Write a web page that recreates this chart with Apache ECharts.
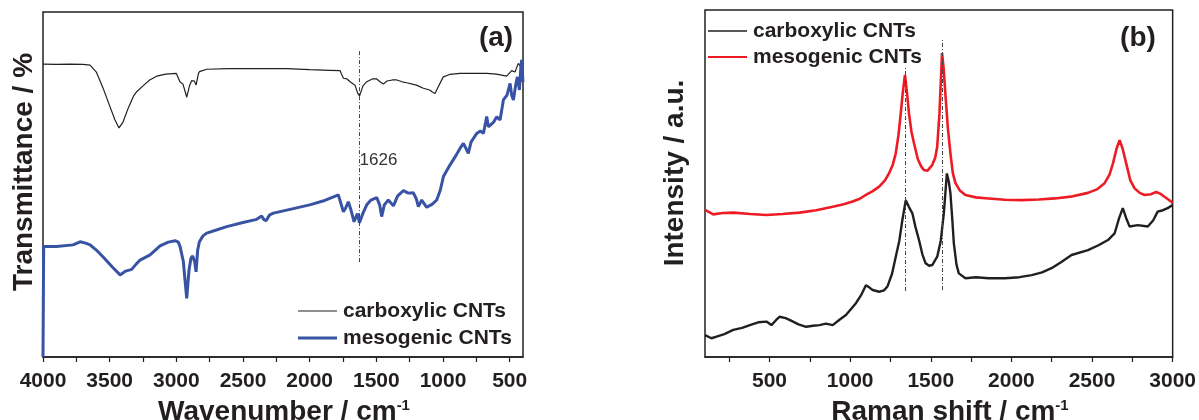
<!DOCTYPE html>
<html>
<head>
<meta charset="utf-8">
<title>FTIR and Raman spectra of CNTs</title>
<script src="https://cdn.jsdelivr.net/npm/echarts@6/dist/echarts.min.js"></script>
<style>
  html, body { margin: 0; padding: 0; background: #fff; }
  #chart { width: 1199px; height: 420px; }
</style>
</head>
<body>
<div id="chart"></div>
<script>
// ---- (a) FTIR: [wavenumber cm-1, transmittance (arb.)] ----
const ftirCarboxylic = [
  [4000, 84.9], [3900, 84.8], [3800, 84.9], [3700, 84.8], [3647, 84.6], [3600, 82.6],
  [3550, 78.0], [3500, 72.8], [3460, 68.7], [3430, 66.4], [3400, 68.1], [3360, 72.2],
  [3320, 75.7], [3297, 76.9], [3250, 78.6], [3200, 80.3], [3147, 81.4], [3080, 82.0],
  [3000, 82.2], [2973, 79.8], [2950, 79.1], [2922, 75.3], [2900, 78.8], [2885, 80.1],
  [2865, 80.0], [2852, 78.8], [2835, 82.0], [2827, 82.7], [2772, 83.4], [2600, 83.6],
  [2400, 83.6], [2172, 83.6], [2000, 83.3], [1850, 83.1], [1772, 83.0], [1747, 80.8],
  [1720, 80.6], [1697, 79.8], [1660, 78.8], [1640, 76.5], [1626, 75.7], [1600, 78.6],
  [1572, 79.8], [1530, 80.6], [1497, 80.6], [1470, 79.7], [1447, 79.1], [1420, 80.0],
  [1380, 80.3], [1347, 80.3], [1300, 79.7], [1272, 79.5], [1200, 78.8], [1147, 77.9],
  [1100, 77.4], [1080, 76.8], [1060, 76.4], [1040, 78.0], [998, 81.2], [950, 81.9],
  [872, 82.2], [800, 82.2], [672, 82.2], [600, 82.0], [522, 81.4], [485, 83.0],
  [460, 82.6], [435, 85.1], [417, 84.1], [400, 85.2]
];
const ftirMesogenic = [
  [4000, 0], [3995, 32.0], [3900, 32.0], [3775, 32.5], [3722, 33.4], [3680, 33.0],
  [3647, 32.5], [3600, 31.0], [3547, 28.9], [3480, 26.1], [3422, 23.8], [3380, 24.9],
  [3335, 25.4], [3300, 27.0], [3272, 28.1], [3197, 29.6], [3122, 32.2], [3060, 33.3],
  [3010, 33.7], [2985, 33.3], [2972, 32.0], [2947, 27.6], [2935, 22.3], [2922, 17.0],
  [2905, 25.2], [2890, 28.7], [2877, 29.3], [2862, 27.5], [2852, 24.7], [2840, 31.0],
  [2827, 33.4], [2800, 35.1], [2772, 35.9], [2700, 36.8], [2622, 37.8], [2500, 39.0],
  [2397, 39.9], [2360, 40.9], [2345, 39.9], [2327, 39.5], [2300, 41.2], [2272, 41.7],
  [2147, 42.8], [2000, 44.1], [1900, 45.2], [1785, 47.0], [1770, 46.5], [1747, 42.1],
  [1730, 43.2], [1710, 45.0], [1690, 42.6], [1667, 39.2], [1642, 41.6], [1627, 38.9],
  [1600, 41.7], [1572, 44.1], [1540, 45.5], [1497, 46.2], [1475, 44.1], [1460, 40.7],
  [1440, 44.1], [1410, 45.5], [1372, 43.8], [1340, 46.7], [1297, 48.2], [1260, 47.5],
  [1222, 47.6], [1200, 45.8], [1185, 43.6], [1160, 45.5], [1122, 43.4], [1080, 44.3],
  [1047, 45.5], [1020, 48.4], [997, 52.3], [947, 55.7], [900, 58.6], [870, 60.6],
  [847, 61.9], [830, 60.6], [810, 59.0], [790, 62.3], [747, 64.8], [720, 65.5],
  [697, 64.8], [680, 68.1], [672, 69.7], [660, 66.7], [647, 66.7], [620, 68.1],
  [597, 69.6], [572, 68.7], [547, 74.5], [520, 75.9], [497, 79.3], [485, 75.9],
  [472, 74.5], [455, 78.8], [442, 81.2], [427, 77.4], [415, 84.6], [410, 86.1], [400, 79.7]
];
const ftirMarker = 1626;              // C=O / C=C band position
const ftirMarkerSpan = [27.5, 89.0];  // extent of the guide line
const ftirLabelY = 57.1;

// ---- (b) Raman: [Raman shift cm-1, intensity (a.u.)] ----
const ramanCarboxylic = [
  [100, 6.3], [140, 5.4], [172, 5.9], [220, 6.6], [275, 7.8], [330, 8.4], [378, 9.2],
  [430, 10.0], [481, 10.2], [512, 9.2], [540, 10.6], [563, 11.6], [600, 11.2], [624, 10.7],
  [680, 9.4], [727, 8.7], [770, 9.0], [810, 9.2], [850, 9.6], [892, 9.2], [930, 10.6],
  [974, 12.1], [1036, 15.5], [1070, 18.0], [1098, 20.7], [1120, 20.0], [1140, 19.3],
  [1180, 18.8], [1210, 19.2], [1231, 20.3], [1260, 24.0], [1283, 28.9], [1305, 33.5],
  [1324, 39.5], [1345, 45.2], [1365, 43.2], [1386, 41.4], [1405, 37.5], [1427, 33.7],
  [1448, 29.6], [1468, 27.0], [1490, 26.3], [1509, 26.5], [1540, 28.9], [1562, 33.5],
  [1581, 41.4], [1600, 52.9], [1612, 50.5], [1622, 47.2], [1633, 40.0], [1643, 32.8],
  [1660, 26.5], [1674, 24.1], [1715, 22.7], [1780, 23.0], [1858, 22.7], [1961, 22.7],
  [2050, 23.0], [2126, 23.6], [2190, 24.4], [2249, 25.6], [2310, 27.4], [2373, 29.4],
  [2475, 30.8], [2540, 32.2], [2599, 33.7], [2640, 35.6], [2668, 40.0], [2691, 42.9],
  [2712, 40.0], [2733, 37.6], [2784, 38.0], [2846, 37.6], [2880, 39.4], [2907, 41.9],
  [2940, 42.3], [2969, 42.9], [3000, 43.8]
];
const ramanMesogenic = [
  [100, 42.4], [151, 41.1], [210, 41.5], [275, 41.6], [380, 41.2], [481, 40.9], [580, 41.2],
  [686, 41.6], [790, 42.3], [892, 43.3], [960, 44.0], [1015, 44.8], [1060, 45.6], [1098, 46.7],
  [1140, 47.8], [1180, 49.1], [1215, 50.8], [1241, 52.9], [1265, 55.5], [1283, 58.7],
  [1300, 64.0], [1314, 70.2], [1326, 76.0], [1340, 81.3], [1352, 76.5], [1365, 70.2],
  [1380, 65.0], [1396, 61.6], [1420, 57.0], [1440, 55.0], [1457, 53.9], [1480, 53.7],
  [1509, 55.3], [1528, 57.5], [1540, 60.6], [1554, 70.2], [1562, 79.0], [1570, 87.6],
  [1580, 83.0], [1592, 75.0], [1606, 66.0], [1622, 58.7], [1637, 53.0], [1653, 50.1],
  [1680, 48.0], [1715, 46.7], [1780, 46.0], [1858, 45.7], [1960, 45.3], [2064, 45.2],
  [2170, 45.4], [2270, 45.7], [2380, 46.3], [2475, 47.3], [2530, 48.3], [2578, 50.1],
  [2608, 52.5], [2630, 55.8], [2652, 60.0], [2671, 62.5], [2690, 60.0], [2712, 55.8],
  [2737, 51.0], [2764, 48.6], [2796, 47.3], [2826, 46.7], [2865, 46.9], [2898, 47.6],
  [2925, 47.0], [2949, 46.2], [2990, 44.8], [3000, 44.4]
];
const ramanMarkers = [
  { shift: 1340, span: [19.0, 83.6] },  // D band
  { shift: 1570, span: [19.3, 91.4] }   // G band
];

// ---- tick values ----
const ftirTicks = [4000, 3750, 3500, 3250, 3000, 2750, 2500, 2250, 2000, 1750, 1500, 1250, 1000, 750, 500];
const ftirLabels = [4000, 3500, 3000, 2500, 2000, 1500, 1000, 500];
const ramanTicks = [250, 500, 750, 1000, 1250, 1500, 1750, 2000, 2250, 2500, 2750, 3000];
const ramanLabels = [500, 1000, 1500, 2000, 2500, 3000];

const seriesNames = ['carboxylic CNTs', 'mesogenic CNTs'];

const FONT = '"Liberation Sans", Arial, Helvetica, sans-serif';
const INK = '#231f20';
const BLUE = '#3953a4';
const RED = '#ed1c24';

function xAxisFor(gridIndex, min, max, inverse, ticks, labels) {
  return {
    type: 'value', gridIndex, min, max, inverse,
    axisLine: { show: true, onZero: false, lineStyle: { color: INK, width: 1.5 } },
    axisTick: { show: true, customValues: ticks, length: 5, inside: false, lineStyle: { color: INK, width: 1.2 } },
    axisLabel: {
      show: true, customValues: labels, margin: 14,
      formatter: v => String(v),
      fontFamily: FONT, fontWeight: 'bold', fontSize: 21, color: INK
    },
    splitLine: { show: false }
  };
}
function yAxisFor(gridIndex) {
  return {
    type: 'value', gridIndex, min: 0, max: 100,
    axisLine: { show: false }, axisTick: { show: false },
    axisLabel: { show: false }, splitLine: { show: false }
  };
}
function guide(x, span) {
  return [{ coord: [x, span[0]] }, { coord: [x, span[1]] }];
}
const guideStyle = { color: '#444', width: 1, type: [4, 2, 1, 2] };

function legendItems(x0, y0, gap, colors, widths) {
  const out = [];
  seriesNames.forEach((name, i) => {
    const y = y0 + i * gap;
    out.push({
      type: 'line', silent: true,
      shape: { x1: x0, y1: y, x2: x0 + 39, y2: y },
      style: { stroke: colors[i], lineWidth: widths[i] }
    });
    out.push({
      type: 'text', silent: true, x: x0 + 45, y: y,
      style: { text: name, font: 'bold 21px ' + FONT, fill: INK, align: 'left', verticalAlign: 'middle' }
    });
  });
  return out;
}

const titleFont = 'bold 28px ' + FONT;
const supRich = { sup: { font: 'bold 15px ' + FONT, fill: INK, verticalAlign: 'top', padding: [0, 0, 12, 0] } };

const chart = echarts.init(document.getElementById('chart'), null, { renderer: 'canvas' });
chart.setOption({
  animation: false,
  backgroundColor: '#ffffff',
  grid: [
    { left: 43, top: 12, width: 480, height: 345, show: true, borderColor: INK, borderWidth: 1.5, backgroundColor: 'transparent', containLabel: false },
    { left: 705, top: 10, width: 470, height: 347, show: true, borderColor: INK, borderWidth: 1.5, backgroundColor: 'transparent', containLabel: false }
  ],
  xAxis: [
    xAxisFor(0, 400, 4000, true, ftirTicks, ftirLabels),
    xAxisFor(1, 100, 3000, false, ramanTicks, ramanLabels)
  ],
  yAxis: [yAxisFor(0), yAxisFor(1)],
  series: [
    {
      name: seriesNames[0], type: 'line', xAxisIndex: 0, yAxisIndex: 0,
      data: ftirCarboxylic, showSymbol: false, symbol: 'none',
      lineStyle: { color: INK, width: 1.2 }, z: 2,
      markLine: {
        silent: true, symbol: ['none', 'none'], label: { show: false },
        lineStyle: guideStyle, data: [guide(ftirMarker, ftirMarkerSpan)]
      },
      markPoint: {
        silent: true,
        data: [{
          coord: [ftirMarker, ftirLabelY], symbol: 'circle', symbolSize: 0,
          label: { show: true, formatter: String(ftirMarker), position: 'right', distance: 0,
                   fontFamily: FONT, fontSize: 17, color: '#333' }
        }]
      }
    },
    {
      name: seriesNames[1], type: 'line', xAxisIndex: 0, yAxisIndex: 0,
      data: ftirMesogenic, showSymbol: false, symbol: 'none',
      lineStyle: { color: BLUE, width: 3 }, z: 3
    },
    {
      name: seriesNames[0], type: 'line', xAxisIndex: 1, yAxisIndex: 1,
      data: ramanCarboxylic, showSymbol: false, symbol: 'none',
      lineStyle: { color: INK, width: 2.4 }, z: 2,
      markLine: {
        silent: true, symbol: ['none', 'none'], label: { show: false },
        lineStyle: guideStyle,
        data: ramanMarkers.map(m => guide(m.shift, m.span))
      }
    },
    {
      name: seriesNames[1], type: 'line', xAxisIndex: 1, yAxisIndex: 1,
      data: ramanMesogenic, showSymbol: false, symbol: 'none',
      lineStyle: { color: RED, width: 2.6 }, z: 3
    }
  ],
  graphic: {
    elements: [
      // panel tags
      { type: 'text', silent: true, x: 496, y: 38, style: { text: '(a)', font: titleFont, fill: INK, align: 'center', verticalAlign: 'middle' } },
      { type: 'text', silent: true, x: 1138, y: 38, style: { text: '(b)', font: titleFont, fill: INK, align: 'center', verticalAlign: 'middle' } },
      // axis titles
      { type: 'text', silent: true, x: 24, y: 172, rotation: Math.PI / 2,
        style: { text: 'Transmittance / %', font: titleFont, fill: INK, align: 'center', verticalAlign: 'middle' } },
      { type: 'text', silent: true, x: 675, y: 173, rotation: Math.PI / 2,
        style: { text: 'Intensity / a.u.', font: titleFont, fill: INK, align: 'center', verticalAlign: 'middle' } },
      { type: 'text', silent: true, x: 284, y: 412,
        style: { text: 'Wavenumber / cm{sup|-1}', font: titleFont, fill: INK, align: 'center', verticalAlign: 'middle', rich: supRich } },
      { type: 'text', silent: true, x: 950, y: 412,
        style: { text: 'Raman shift / cm{sup|-1}', font: titleFont, fill: INK, align: 'center', verticalAlign: 'middle', rich: supRich } },
      ...legendItems(298, 311, 27, [INK, BLUE], [1.2, 3]),
      ...legendItems(708, 31, 26, [INK, RED], [1.5, 2.2])
    ]
  }
});
</script>
</body>
</html>
